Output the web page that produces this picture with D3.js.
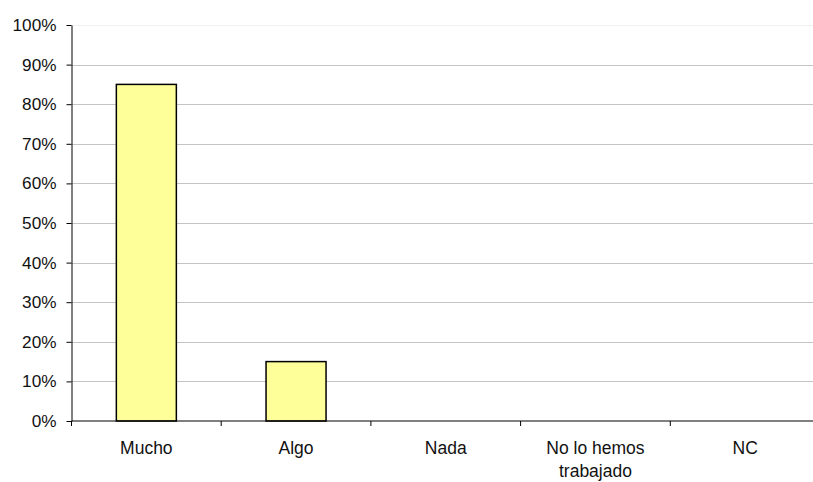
<!DOCTYPE html>
<html lang="es">
<head>
<meta charset="UTF-8">
<title>Chart</title>
<style>
  body { margin: 0; background: #fff; }
  svg { display: block; }
  svg text { font-family: "Liberation Sans", Arial, sans-serif; }
</style>
</head>
<body>
<div id="chart"></div>
<script src="https://cdn.jsdelivr.net/npm/d3@7"></script>
<script>
const categories = [["Mucho"], ["Algo"], ["Nada"], ["No lo hemos", "trabajado"], ["NC"]];
const values = [0.85, 0.15, 0, 0, 0];
const yTicks = [0, 0.1, 0.2, 0.3, 0.4, 0.5, 0.6, 0.7, 0.8, 0.9, 1];

const W = 813, H = 482;
const margin = { top: 25, right: -7, bottom: 61, left: 71.5 };
const width = W - margin.left - margin.right;
const height = H - margin.top - margin.bottom;

const svg = d3.select("#chart").append("svg")
  .attr("width", W).attr("height", H);
const g = svg.append("g")
  .attr("transform", `translate(${margin.left},${margin.top})`);

const keys = categories.map(c => c.join(" "));
const x = d3.scaleBand().domain(keys).range([0, width]);
const y = d3.scaleLinear().domain([0, 1]).range([height, 0]);

// gridlines
g.selectAll(".grid")
  .data(yTicks.filter(t => t > 0))
  .enter().append("line")
  .attr("x1", 0).attr("x2", width)
  .attr("y1", d => Math.round(y(d)) + 0.5).attr("y2", d => Math.round(y(d)) + 0.5)
  .attr("stroke", d => d === 1 ? "#f0f0f0" : "#c4c4c4");

// bars
const barW = 60;
g.selectAll(".bar")
  .data(values)
  .enter().append("rect")
  .filter(d => d > 0)
  .attr("x", (d, i) => x(keys[i]) + x.bandwidth() / 2 - barW / 2)
  .attr("width", barW)
  .attr("y", d => y(d))
  .attr("height", d => height - y(d))
  .attr("fill", "#ffff99")
  .attr("stroke", "#000")
  .attr("stroke-width", 1.5);

// y axis
const yAxis = g.append("g")
  .call(d3.axisLeft(y).tickValues(yTicks).tickFormat(d3.format(".0%")).tickSize(5).tickSizeOuter(0));
yAxis.attr("font-family", null).attr("font-size", null);
yAxis.select(".domain").attr("stroke", "#000");
yAxis.selectAll("text").style("font-size", "17.2px").attr("fill", "#111").attr("x", -15);

// x axis
const xAxisG = g.append("g").attr("transform", `translate(0,${height})`);
xAxisG.append("line").attr("x1", 0).attr("x2", width).attr("stroke", "#000");
xAxisG.selectAll(".sep")
  .data(keys)
  .enter().append("line")
  .attr("x1", d => x(d)).attr("x2", d => x(d))
  .attr("y1", 0).attr("y2", 5)
  .attr("stroke", "#000");

const lbl = xAxisG.selectAll(".lbl")
  .data(categories)
  .enter().append("text")
  .attr("x", (d, i) => x(keys[i]) + x.bandwidth() / 2)
  .attr("y", 33)
  .attr("text-anchor", "middle")
  .style("font-size", "17.5px")
  .attr("fill", "#111");
lbl.selectAll("tspan")
  .data(d => d)
  .enter().append("tspan")
  .attr("x", function () { return d3.select(this.parentNode).attr("x"); })
  .attr("dy", (d, i) => i === 0 ? 0 : 23)
  .text(d => d);
</script>
</body>
</html>
